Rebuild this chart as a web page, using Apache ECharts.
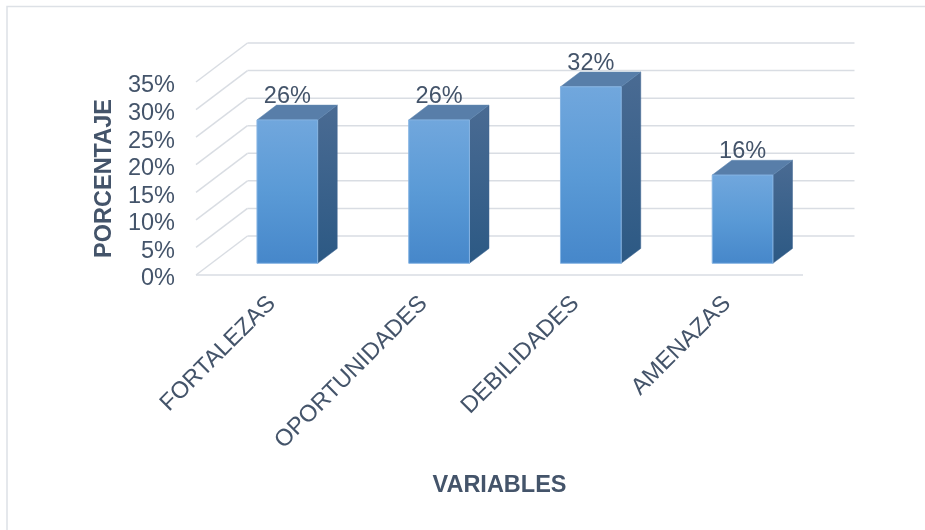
<!DOCTYPE html>
<html>
<head>
<meta charset="utf-8">
<script src="https://cdn.jsdelivr.net/npm/echarts@6/dist/echarts.min.js"></script>
<style>
  html, body { margin: 0; padding: 0; background: #ffffff; }
  #chart { width: 925px; height: 530px; }
</style>
</head>
<body>
<div id="chart"></div>
<script>
// Categories and percentages
var categories = ['FORTALEZAS', 'OPORTUNIDADES', 'DEBILIDADES', 'AMENAZAS'];
var percentages = [26, 26, 32, 16];
// Value-axis ticks (percent)
var tickValues = [0, 5, 10, 15, 20, 25, 30, 35];

var TEXT = '#44546a';
var FONT = "'Liberation Sans', Arial, sans-serif";
var FS = 23.5;
var GRID_LINE = '#d9dde3';

// Oblique projection of the depth axis (full wall depth)
var DEPTH = [51.5, -39];
var FRONT_F = 0.30;   // bar front plane (fraction of depth)
var BACK_F = 0.68;    // bar back plane
var HALF_W = 0.20;    // half bar width, fraction of category width

function renderWalls(params, api) {
  var cs = params.coordSys;
  var y = api.coord([0, api.value(1)])[1];
  var x0 = cs.x, x1 = cs.x + cs.width;
  var style = { stroke: GRID_LINE, lineWidth: 1.5, fill: null };
  var children = [
    { type: 'line', shape: { x1: x0, y1: y, x2: x0 + DEPTH[0], y2: y + DEPTH[1] }, style: style },
    { type: 'line', shape: { x1: x0 + DEPTH[0], y1: y + DEPTH[1], x2: x1 + DEPTH[0], y2: y + DEPTH[1] }, style: style }
  ];
  if (api.value(1) === 0) {
    children.push({ type: 'line', shape: { x1: x0, y1: y, x2: x1, y2: y }, style: style });
  }
  return { type: 'group', children: children };
}

function renderBar(params, api) {
  var idx = api.value(0), val = api.value(1);
  var base = api.coord([idx, 0]);
  var top = api.coord([idx, val]);
  var size = api.size([1, 0])[0];
  var hw = size * HALF_W;
  var fx = DEPTH[0] * FRONT_F, fy = DEPTH[1] * FRONT_F;
  var dx = DEPTH[0] * (BACK_F - FRONT_F), dy = DEPTH[1] * (BACK_F - FRONT_F);
  var L = base[0] - hw + fx, R = base[0] + hw + fx;
  var B = base[1] + fy, T = top[1] + fy;

  var front = {
    type: 'rect',
    shape: { x: L, y: T, width: R - L, height: B - T },
    style: {
      fill: new echarts.graphic.LinearGradient(0, 0, 0, 1, [
        { offset: 0, color: '#71a7dd' },
        { offset: 0.5, color: '#5a9ad6' },
        { offset: 1, color: '#4687ca' }
      ]),
      stroke: '#86b4e3', lineWidth: 1
    }
  };
  var topFace = {
    type: 'polygon',
    shape: { points: [[L, T], [R, T], [R + dx, T + dy], [L + dx, T + dy]] },
    style: { fill: '#587ea9', stroke: '#5f86b0', lineWidth: 0.5 }
  };
  var side = {
    type: 'polygon',
    shape: { points: [[R, T], [R + dx, T + dy], [R + dx, B + dy], [R, B]] },
    style: {
      fill: new echarts.graphic.LinearGradient(0, 0, 0, 1, [
        { offset: 0, color: '#4a6b93' },
        { offset: 1, color: '#2c5984' }
      ]),
      stroke: '#3f6590', lineWidth: 0.5
    }
  };
  var label = {
    type: 'text',
    style: {
      x: (L + R) / 2, y: T + dy + 3.5,
      text: val + '%',
      fill: TEXT, font: FS + 'px ' + FONT,
      align: 'center', verticalAlign: 'bottom'
    }
  };
  return { type: 'group', children: [side, topFace, front, label] };
}

var chart = echarts.init(document.getElementById('chart'), null, { renderer: 'canvas' });

chart.setOption({
  animation: false,
  backgroundColor: '#ffffff',
  graphic: [{
    type: 'rect',
    shape: { x: 7, y: 6.5, width: 1000, height: 1000 },
    style: { fill: null, stroke: '#dde1e6', lineWidth: 1.5 },
    z: -10
  }],
  grid: { left: 196, right: 122, top: 82, bottom: 255 },
  xAxis: {
    type: 'category',
    data: categories,
    axisLine: { show: false },
    axisTick: { show: false },
    axisLabel: { rotate: 45, margin: 25, color: TEXT, fontSize: FS, fontFamily: FONT, interval: 0 },
    name: 'VARIABLES',
    nameLocation: 'middle',
    nameGap: 199,
    nameTextStyle: { color: TEXT, fontSize: FS, fontWeight: 'bold', fontFamily: FONT }
  },
  yAxis: {
    type: 'value',
    min: 0, max: 35, interval: 5,
    axisLine: { show: false },
    axisTick: { show: false },
    splitLine: { show: false },
    axisLabel: {
      formatter: function (v) { return '{p|' + v + '%}'; },
      margin: 21,
      rich: { p: { color: TEXT, fontSize: FS, fontFamily: FONT, padding: [8, 0, 0, 0] } }
    },
    name: 'PORCENTAJE',
    nameLocation: 'middle',
    nameGap: 79,
    nameTextStyle: { color: TEXT, fontSize: FS, fontWeight: 'bold', fontFamily: FONT }
  },
  series: [
    {
      type: 'custom',
      renderItem: renderWalls,
      data: tickValues.map(function (v) { return [0, v]; }),
      z: 1,
      silent: true
    },
    {
      type: 'custom',
      renderItem: renderBar,
      data: percentages.map(function (v, i) { return [i, v]; }),
      z: 5
    }
  ]
});
</script>
</body>
</html>
